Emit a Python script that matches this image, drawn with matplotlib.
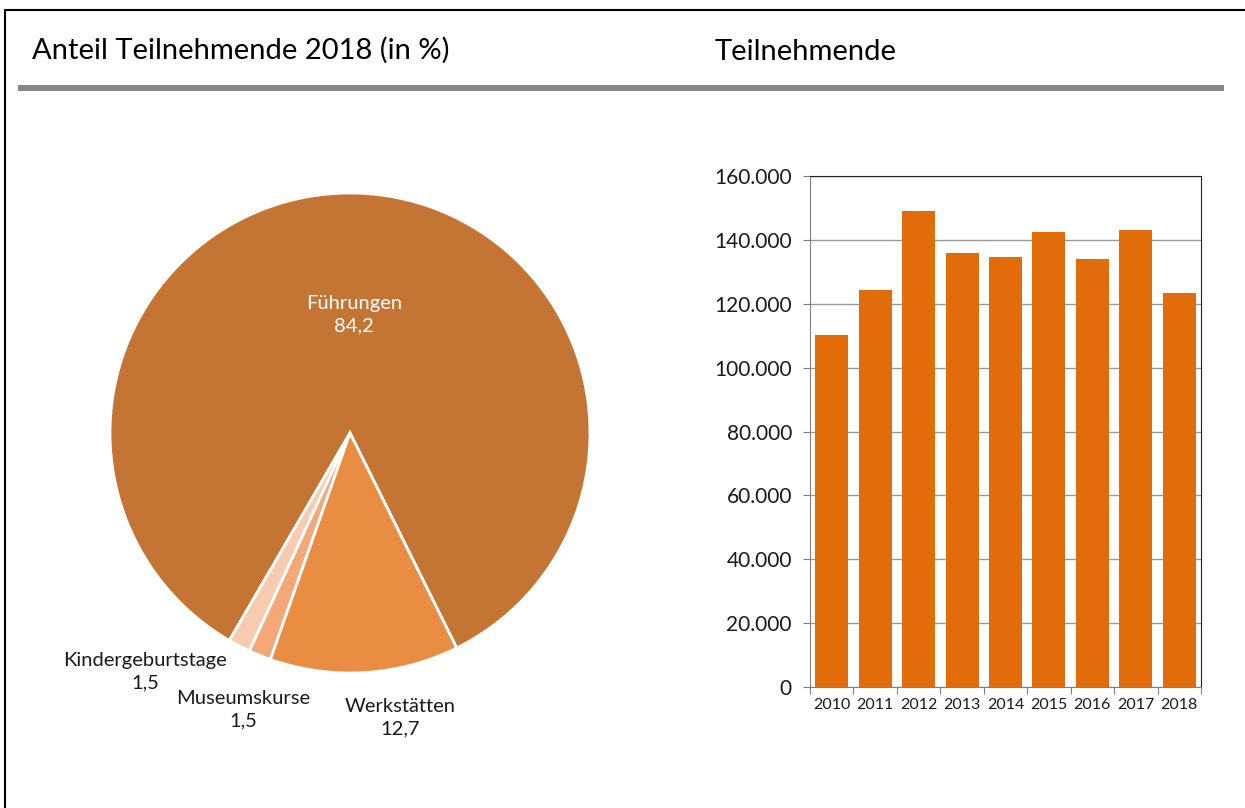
import matplotlib.pyplot as plt
import matplotlib.patches as mpatches
from matplotlib.ticker import FuncFormatter, MultipleLocator
import numpy as np

plt.rcParams['font.family'] = ['Lato', 'DejaVu Sans']

# data
pie_labels = ['Führungen', 'Kindergeburtstage', 'Museumskurse', 'Werkstätten']
pie_values = [84.2, 1.5, 1.5, 12.7]
pie_colors = ['#C47534', '#F8CBB0', '#F5A877', '#E88D42']

years = ['2010', '2011', '2012', '2013', '2014', '2015', '2016', '2017', '2018']
teilnehmende = [110200, 124300, 149000, 135900, 134600, 142500, 134000, 143100, 123400]

W, H = 1245, 808
fig = plt.figure(figsize=(W / 100, H / 100), dpi=100)

def box(x0, y0, x1, y1):
    # pixel box (top-left origin) -> figure fraction rect
    return [x0 / W, 1 - y1 / H, (x1 - x0) / W, (y1 - y0) / H]

# outer frame and header rule
fig.patches.append(mpatches.Rectangle((5 / W, -0.1), 1.2, 1.1 - 10 / H, transform=fig.transFigure,
                                      fill=False, edgecolor='black', lw=1.5))
fig.patches.append(mpatches.Rectangle((18 / W, 1 - 91 / H), (1224 - 18) / W, 6 / H,
                                      transform=fig.transFigure, color='#878787', lw=0))

fig.text(32 / W, 1 - 50 / H, 'Anteil Teilnehmende 2018 (in %)', fontsize=21, va='center', ha='left')
fig.text(715 / W, 1 - 52 / H, 'Teilnehmende', fontsize=21, va='center', ha='left')

# pie
ax1 = fig.add_axes(box(110, 193, 590, 673))
start = -63.6
wedges, _ = ax1.pie(pie_values, colors=pie_colors, startangle=start, counterclock=True,
                    radius=1, wedgeprops=dict(edgecolor='white', linewidth=2))
ax1.set_xlim(-1, 1)
ax1.set_ylim(-1, 1)
ax1.set_aspect('equal')
ax1.axis('off')

fig.text(354 / W, 1 - 315 / H, f'{pie_labels[0]}\n{str(pie_values[0]).replace(".", ",")}',
         color='white', fontsize=14.5, ha='center', va='center', linespacing=1.4)
label_pos = {1: (145, 672), 2: (243, 710), 3: (400, 718)}
for i, (px, py) in label_pos.items():
    fig.text(px / W, 1 - py / H, f'{pie_labels[i]}\n{str(pie_values[i]).replace(".", ",")}',
             color='#1a1a1a', fontsize=14.5, ha='center', va='center', linespacing=1.4)

# bars
ax2 = fig.add_axes(box(810, 176, 1201, 687))
x = np.arange(len(years))
ax2.bar(x, teilnehmende, width=0.76, color='#E36C0A', zorder=2)
ax2.set_xlim(-0.5, len(years) - 0.5)
ax2.set_ylim(0, 160000)
ax2.yaxis.set_major_locator(MultipleLocator(20000))
ax2.yaxis.set_major_formatter(FuncFormatter(lambda v, p: f'{int(v):,}'.replace(',', '.')))
ax2.grid(axis='y', color='#9a9a9a', lw=1, zorder=1)
ax2.set_xticks(np.arange(-0.5, len(years), 1.0))
ax2.set_xticklabels([])
ax2.set_xticks(x, minor=True)
ax2.set_xticklabels(years, minor=True, fontsize=11.5, color='#1a1a1a')
ax2.tick_params(axis='x', which='minor', length=0, pad=8)
ax2.tick_params(axis='x', which='major', length=5, color='#808080')
ax2.tick_params(axis='y', length=5, color='#808080', labelsize=15, pad=8, labelcolor='#1a1a1a')
for s in ['left', 'bottom']:
    ax2.spines[s].set_color('#808080')
for s in ['top', 'right']:
    ax2.spines[s].set_color('#202020')

fig.savefig('out.png', dpi=100)
